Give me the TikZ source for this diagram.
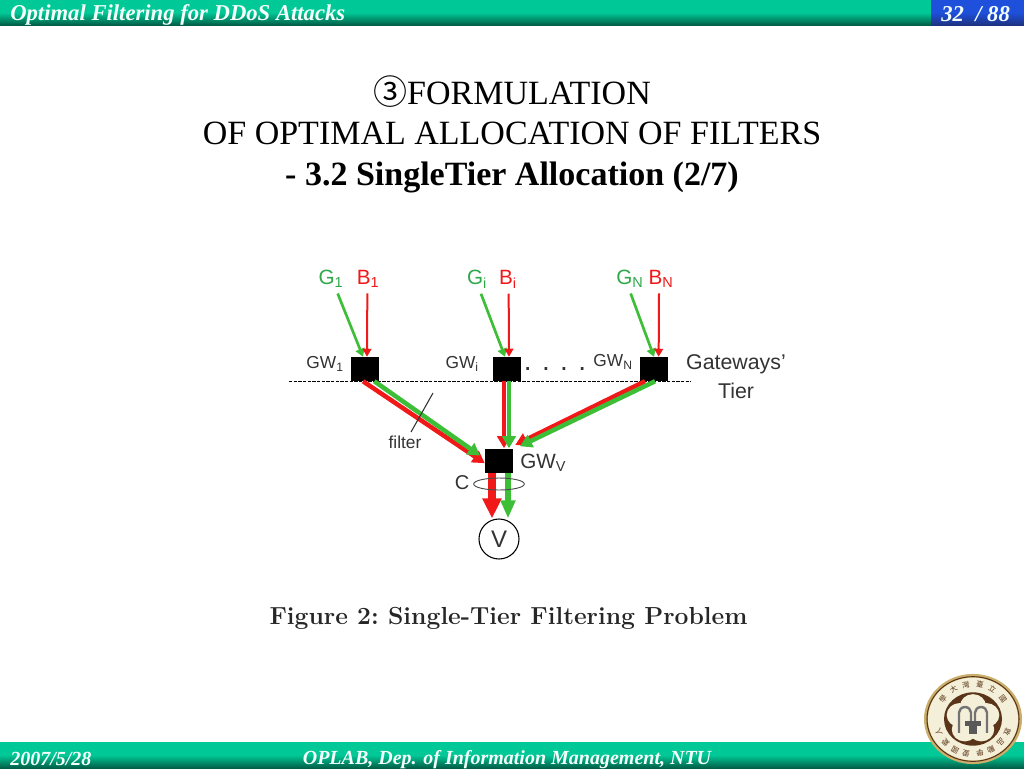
\documentclass[tikz,border=0pt]{standalone}
\usepackage{fontspec}
\setmainfont{Liberation Serif}
\setsansfont{Liberation Sans}
\newfontfamily\cjkfont{Noto Sans CJK TC}
\usetikzlibrary{arrows.meta,shapes.geometric,calc}
\definecolor{barlight}{HTML}{00C896}
\definecolor{bardark}{HTML}{005F48}
\definecolor{pagelight}{HTML}{1E50DC}
\definecolor{pagedark}{HTML}{1E3282}
\definecolor{barwhite}{HTML}{F4FFFB}
\definecolor{goodgreen}{HTML}{3CBE37}
\definecolor{goodtext}{HTML}{2FA84A}
\definecolor{badred}{HTML}{F01818}
\definecolor{sealgold}{HTML}{C9AE6C}
\definecolor{sealbrown}{HTML}{5A3418}
\definecolor{sealcream}{HTML}{F4EFD8}
\tikzset{
  gwbox/.style={fill=black,minimum width=21pt,minimum height=18pt,inner sep=0pt},
  flowlbl/.style={font=\sffamily\fontsize{15.5}{15.5}\selectfont,inner sep=0pt},
  gwlbl/.style={font=\sffamily\fontsize{13}{13}\selectfont,text=black!80,inner sep=0pt},
  inthin/.style={-{Triangle[length=6pt,width=6.5pt]},line width=1.5pt},
  inthing/.style={-{Triangle[length=6pt,width=7pt]},line width=2pt},
  inmid/.style={-{Triangle[length=9pt,width=10pt]},line width=3.4pt},
  bartext/.style={font=\bfseries\itshape\fontsize{15}{15}\selectfont,text=barwhite,inner sep=0pt},
  titletext/.style={font=\fontsize{25.5}{25.5}\selectfont,inner sep=0pt,anchor=base},
  sealtext/.style={font=\cjkfont\fontsize{5.5}{5.5}\selectfont,text=sealbrown,inner sep=0pt},
}
\begin{document}
\begin{tikzpicture}[>=stealth, x=0.75pt, y=-0.75pt]
  \useasboundingbox (0,0) rectangle (1024,768);
  % bars
  \shade[top color=barlight,bottom color=bardark,middle color=barlight] (0,0) rectangle (1024,25);
  \shade[top color=pagelight,bottom color=pagedark,middle color=pagelight] (931,0) rectangle (1024,25);
  \shade[top color=barlight,bottom color=bardark,middle color=barlight] (0,742) rectangle (1024,768);
  \node[bartext,font=\bfseries\itshape\fontsize{17}{17}\selectfont,anchor=west] (head) at (10,14.5) {Optimal Filtering for DDoS Attacks};
  \node[bartext,font=\bfseries\itshape\fontsize{17}{17}\selectfont,anchor=west] (page) at (941,14) {32~~/ 88};
  \node[bartext,anchor=west] (date) at (10,759) {2007/5/28};
  \node[bartext] (foot) at (507,760) {OPLAB, Dep. of Information Management, NTU};
  % title
  \node[titletext] (tone) at (512,104) {{\cjkfont ③}FORMULATION};
  \node[titletext] (ttwo) at (512,144) {OF OPTIMAL ALLOCATION OF FILTERS};
  \node[titletext,font=\bfseries\fontsize{25.5}{25.5}\selectfont] (tthree) at (512,185.5) {- 3.2 SingleTier Allocation (2/7)};
  % tier line
  \coordinate (tierl) at (289,381);
  \coordinate (tierr) at (691,381);
  \draw[dash pattern=on 2.6pt off 0.9pt,line width=0.6pt] (tierl) -- (tierr);
  % gateways
  \node[gwbox] (gwone) at (365,369) {};
  \node[gwbox] (gwi) at (507,369) {};
  \node[gwbox] (gwn) at (654,369) {};
  \node[gwbox] (gwv) at (499,460.5) {};
  \node[circle,draw,line width=0.8pt,minimum size=30pt,inner sep=0pt,font=\sffamily\fontsize{18}{18}\selectfont,text=black!80] (vic) at (499,539) {V};
  % sources
  \node[flowlbl,text=goodtext] (gone) at (331,279) {G\textsubscript{1}};
  \node[flowlbl,text=badred] (bone) at (368,279) {B\textsubscript{1}};
  \node[flowlbl,text=goodtext] (gii) at (477,279) {G\textsubscript{i}};
  \node[flowlbl,text=badred] (bii) at (508,279) {B\textsubscript{i}};
  \node[flowlbl,text=goodtext] (gnn) at (630,279) {G\textsubscript{N}};
  \node[flowlbl,text=badred] (bnn) at (661,279) {B\textsubscript{N}};
  \draw[inthing,goodgreen] ([xshift=5pt,yshift=-4pt]gone.south) -- ([xshift=-1.5pt]gwone.north);
  \draw[inthin,badred] ([xshift=-.5pt,yshift=-4pt]bone.south) -- ([xshift=1.5pt]gwone.north);
  \draw[inthing,goodgreen] ([xshift=3pt,yshift=-4pt]gii.south) -- ([xshift=-1.5pt]gwi.north);
  \draw[inthin,badred] ([xshift=.5pt,yshift=-4pt]bii.south) -- ([xshift=1.5pt]gwi.north);
  \draw[inthing,goodgreen] ([xshift=.5pt,yshift=-4pt]gnn.south) -- ([xshift=0pt]gwn.north);
  \draw[inthin,badred] ([xshift=-1.5pt,yshift=-4pt]bnn.south) -- ([xshift=3.5pt]gwn.north);
  % to the victim gateway
  \draw[inmid,badred] ([xshift=-1.5pt]gwone.south) -- ([yshift=-2pt]gwv.west);
  \draw[inmid,goodgreen] ([xshift=7pt]gwone.south) -- ([xshift=-3.5pt,yshift=-5.5pt]gwv.north west);
  \draw[inmid,badred] ([xshift=-2.25pt]gwi.south) -- ([xshift=3.75pt]gwv.north);
  \draw[inmid,goodgreen] ([xshift=1.5pt]gwi.south) -- ([xshift=7.5pt]gwv.north);
  \draw[inmid,badred] ([xshift=-6.75pt]gwn.south) -- ([xshift=1.5pt,yshift=2.5pt]gwv.north east);
  \draw[inmid,goodgreen] ([xshift=.75pt]gwn.south) -- ([xshift=5pt,yshift=1.5pt]gwv.north east);
  % out
  \draw[-{Triangle[length=15pt,width=13.5pt]},badred,line width=5.5pt] ([xshift=-5.25pt]gwv.south) -- ([xshift=-5.25pt]vic.north);
  \draw[-{Triangle[length=13.5pt,width=10.5pt]},goodgreen,line width=3.8pt] ([xshift=6.75pt]gwv.south) -- ([xshift=6.75pt]vic.north);
  \node[ellipse,draw,black!70,line width=0.7pt,minimum width=38pt,minimum height=9pt,inner sep=0pt] (cap) at (499,484) {};
  % labels
  \node[gwlbl,anchor=east] (lone) at (344,364) {GW\textsubscript{1}};
  \node[gwlbl,anchor=east] (lii) at (479,364) {GW\textsubscript{i}};
  \node[gwlbl,anchor=east] (lnn) at (633,362) {GW\textsubscript{N}};
  \node[gwlbl,font=\sffamily\fontsize{21}{21}\selectfont] (dots) at (555,369) {. . . .};
  \node[gwlbl,font=\sffamily\fontsize{16}{16}\selectfont] (tier) at (736,364) {Gateways’};
  \node[gwlbl,font=\sffamily\fontsize{16}{16}\selectfont] (tiertwo) at (736,391) {Tier};
  \node[gwlbl,font=\sffamily\fontsize{15.5}{15.5}\selectfont,anchor=west] (lv) at (520,463) {GW\textsubscript{V}};
  \node[gwlbl,font=\sffamily\fontsize{15}{15}\selectfont] (lc) at (462,483) {C};
  \node[gwlbl,font=\sffamily\fontsize{13}{13}\selectfont] (lfilter) at (405,442) {filter};
  \coordinate (filta) at (433,393);
  \coordinate (filtb) at (411,432);
  \draw[line width=0.8pt,black!80] (filta) -- (filtb);
  % caption
  \node[inner sep=0pt,anchor=base,text=black!85] (cap2) at (508.5,624.5) {\usefont{TU}{lmr}{bx}{n}\fontsize{18.5}{18.5}\selectfont Figure 2:\ Single-Tier Filtering Problem};
  % seal
  \begin{scope}[shift={(973,719)},yscale=0.92]
    \fill[sealgold] (0,0) circle (49);
    \draw[sealbrown,line width=0.8pt] (0,0) circle (46);
    \fill[sealcream] (0,0) circle (45);
    \fill[sealbrown] (0,0) circle (29);
    \foreach \a in {90,162,234,306,18}
      \fill[sealcream] (-\a:14) circle (13);
    \fill[sealcream] (0,0) circle (15);
    \draw[black!55,line width=1.8pt] (-14,15) -- (-14,-7) arc (180:360:6) -- (-2,10);
    \draw[black!55,line width=1.8pt] (14,15) -- (14,-7) arc (360:180:6) -- (2,10);
    \fill[black!65] (-8,2) rectangle (8,8);
    \fill[black!65] (-4,8) rectangle (4,16);
  \end{scope}
  \foreach \t/\a [count=\n] in {學/144,大/122,灣/101,臺/79,立/58,國/36,敦/-22,品/-42,勵/-61,學/-79,愛/-101,國/-119,愛/-138,人/-158}
    \node[sealtext,rotate=\a-90] (seal\n) at ($(973,719)+(-\a:37 and 35)$) {\t};
\end{tikzpicture}
\end{document}
